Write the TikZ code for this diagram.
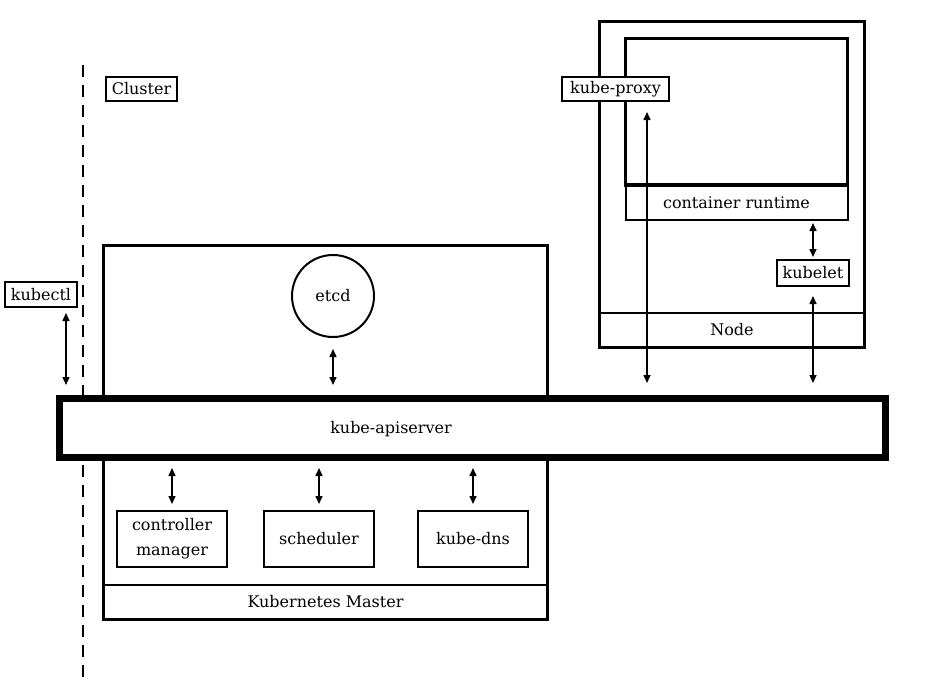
\documentclass[tikz,border=0pt]{standalone}
\usepackage{fontspec}
\setmainfont{DejaVu Serif}
\usetikzlibrary{arrows.meta, positioning, calc}

\begin{document}
\begin{tikzpicture}[x=1pt, y=-1pt,
  every node/.style={outer sep=0pt, font=\fontsize{16}{25}\selectfont},
  tag/.style={draw, line width=2pt, fill=white, inner sep=2pt},
  comp/.style={draw, line width=2pt, minimum width=110pt, minimum height=56pt, align=center},
  strip/.style={draw, line width=2pt},
  frame/.style={draw, line width=3.5pt},
  link/.style={{Triangle[length=8pt,width=7pt]}-{Triangle[length=8pt,width=7pt]}, line width=1.5pt}]
  \useasboundingbox (0,0) rectangle (933,685);

  % cluster boundary
  \draw[line width=2pt, dash pattern=on 12pt off 8pt] (83,65) -- (83,680);
  \node[tag, minimum width=71pt, minimum height=24pt] (cluster) at (141.5,89) {Cluster};
  \node[tag, minimum width=72pt, minimum height=25pt] (kubectl) at (41,294.5) {kubectl};

  % master
  \node[frame, minimum width=444pt, minimum height=374pt] (master) at (325.5,432.5) {};
  \node[strip, minimum width=444pt, minimum height=35pt] (mlabel) at (325.5,602) {Kubernetes Master};
  \node[draw, circle, line width=2pt, minimum size=82pt] (etcd) at (333,296) {etcd};
  \node[comp] (ctrl) at (172,539) {controller\\manager};
  \node[comp] (sched) at (319,539) {scheduler};
  \node[comp] (dns) at (473,539) {kube-dns};

  % worker node
  \node[frame, minimum width=265pt, minimum height=326pt] (node) at (732,184.5) {};
  \node[strip, minimum width=265pt, minimum height=34.5pt] (nlabel) at (732,330) {Node};
  \node[frame, minimum width=222pt, minimum height=146.5pt] (pod) at (736.5,111.75) {};
  \node[strip, minimum width=222pt, minimum height=35pt] (runtime) at (736.5,202.5) {container runtime};
  \node[tag, minimum width=72pt, minimum height=26pt] (kubelet) at (813,273) {kubelet};
  \node[tag, minimum width=107pt, minimum height=24pt] (proxy) at (615.5,89) {kube-proxy};

  % api server
  \node[draw, line width=7pt, fill=white, minimum width=826pt, minimum height=59pt] (api) at (472.5,428) {};
  \node at (391,429) {kube-apiserver};

  \draw[link, shorten <=6pt, shorten >=13.5pt] ([xshift=25pt]kubectl.south) -- ([xshift=25pt]kubectl.south |- api.north);
  \draw[link, shorten <=12pt, shorten >=13.5pt] (etcd.south) -- (etcd.south |- api.north);
  \draw[link, shorten <=10.5pt, shorten >=7pt] (ctrl.north |- api.south) -- (ctrl.north);
  \draw[link, shorten <=10.5pt, shorten >=7pt] (sched.north |- api.south) -- (sched.north);
  \draw[link, shorten <=10.5pt, shorten >=7pt] (dns.north |- api.south) -- (dns.north);
  \draw[link, shorten <=11pt, shorten >=15.5pt] ([xshift=31.5pt]proxy.south) -- ([xshift=31.5pt]proxy.south |- api.north);
  \draw[link, shorten <=3pt, shorten >=3pt] (runtime.south -| kubelet.north) -- (kubelet.north);
  \draw[link, shorten <=10pt, shorten >=15.5pt] (kubelet.south) -- (kubelet.south |- api.north);
\end{tikzpicture}
\end{document}
